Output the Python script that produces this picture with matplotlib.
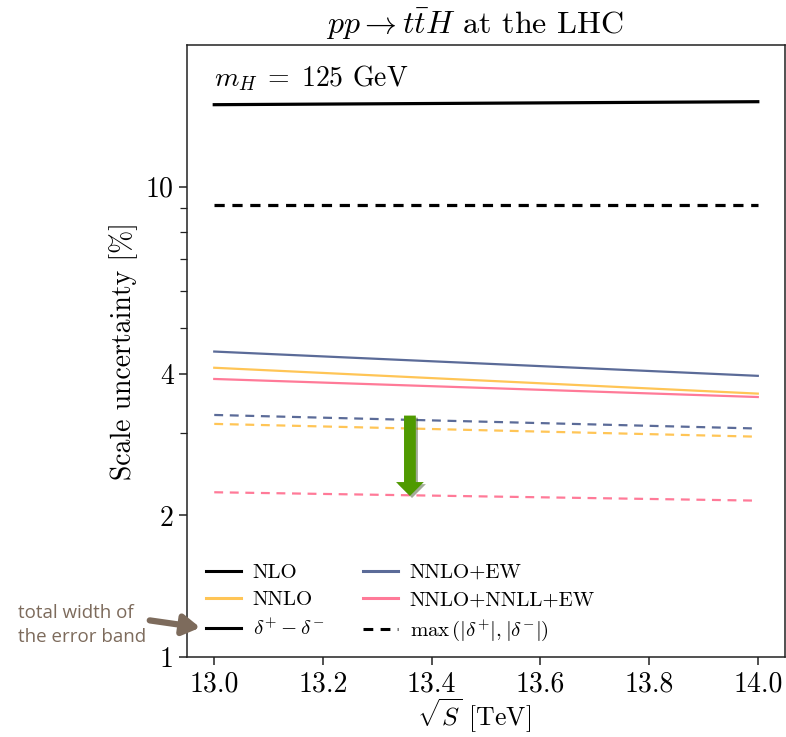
import matplotlib
matplotlib.use("Agg")
import matplotlib.pyplot as plt
import matplotlib.patheffects as pe
from matplotlib.lines import Line2D
from matplotlib.ticker import FixedLocator, NullFormatter, FixedFormatter

plt.rcParams['font.family'] = ['cmr10', 'DejaVu Serif']
plt.rcParams['mathtext.fontset'] = 'cm'
plt.rcParams['axes.formatter.use_mathtext'] = True
plt.rcParams['axes.unicode_minus'] = False

# ---- data ----
sqrt_s = [13.0, 14.0]
nlo_width = [14.93, 15.15]
nlo_max = [9.15, 9.15]
nnlo_width = [4.12, 3.63]
nnlo_max = [3.13, 2.94]
nnloew_width = [4.46, 3.96]
nnloew_max = [3.27, 3.06]
resum_width = [3.90, 3.57]
resum_max = [2.24, 2.15]

y_major = [1, 2, 4, 10]
y_major_labels = ['1', '2', '4', '10']
y_minor = [3, 5, 6, 7, 8, 9]
x_ticks = [13.0, 13.2, 13.4, 13.6, 13.8, 14.0]

legend_labels = ['NLO', 'NNLO', r'$\delta^{+}-\delta^{-}$',
                 'NNLO+EW', 'NNLO+NNLL+EW', r'$\max\,(|\delta^{+}|,|\delta^{-}|)$']

c_nlo = 'black'
c_nnlo = '#ffc556'
c_ew = '#5b6b98'
c_res = '#ff7a98'

fig = plt.figure(figsize=(7.86, 7.37), dpi=100)
ax = fig.add_axes([0.238, 0.1085, 0.7607, 0.8305])

lw_b = 2.3
lw_c = 1.6
ax.plot(sqrt_s, nlo_width, color=c_nlo, lw=lw_b)
ax.plot(sqrt_s, nlo_max, color=c_nlo, lw=lw_b, ls=(0, (3.2, 2.4)))
ax.plot(sqrt_s, nnloew_width, color=c_ew, lw=lw_c)
ax.plot(sqrt_s, nnlo_width, color=c_nnlo, lw=lw_c)
ax.plot(sqrt_s, resum_width, color=c_res, lw=lw_c)
ax.plot(sqrt_s, nnloew_max, color=c_ew, lw=lw_c, ls=(0, (4, 3)))
ax.plot(sqrt_s, nnlo_max, color=c_nnlo, lw=lw_c, ls=(0, (4, 3)))
ax.plot(sqrt_s, resum_max, color=c_res, lw=lw_c, ls=(0, (4, 3)))

ax.set_yscale('log')
ax.set_ylim(1, 20)
ax.set_xlim(12.95, 14.05)
ax.yaxis.set_major_locator(FixedLocator(y_major))
ax.yaxis.set_major_formatter(FixedFormatter(y_major_labels))
ax.yaxis.set_minor_locator(FixedLocator(y_minor))
ax.yaxis.set_minor_formatter(NullFormatter())
ax.set_xticks(x_ticks)
ax.set_xticklabels([f'{v:.1f}' for v in x_ticks])

ax.tick_params(axis='both', which='major', labelsize=20, length=6, width=1.1,
               direction='out', color='#222222')
ax.tick_params(axis='x', which='major', pad=4)
ax.tick_params(axis='y', which='minor', length=5, width=0.9, direction='out', color='#222222')
for s in ax.spines.values():
    s.set_linewidth(1.1)
    s.set_color('#222222')

ax.set_ylabel('Scale uncertainty [%]', fontsize=20, labelpad=6)
ax.set_xlabel(r'$\sqrt{S}$ [TeV]', fontsize=18.5)
ax.xaxis.set_label_coords(0.48, -0.064)
ax.set_title(r'$pp \to t\bar{t}H$ at the LHC', fontsize=23, pad=8, x=0.482)

ax.text(0.045, 0.945, r'$m_H\;=\;125$ GeV', transform=ax.transAxes, fontsize=20,
        ha='left', va='center')

handles = [
    Line2D([], [], color=c_nlo, lw=2.2),
    Line2D([], [], color=c_nnlo, lw=2.2),
    Line2D([], [], color='black', lw=2.2),
    Line2D([], [], color=c_ew, lw=2.2),
    Line2D([], [], color=c_res, lw=2.2),
    Line2D([], [], color='black', lw=2.2, ls=(0, (3.2, 2.4))),
]
ax.legend(handles, legend_labels, loc='lower left', bbox_to_anchor=(0.0, -0.008),
          ncol=2, frameon=False, fontsize=15, handlelength=1.7,
          handletextpad=0.55, columnspacing=1.85, labelspacing=0.42)

# green arrow
ax.annotate('', xy=(13.36, 2.2), xytext=(13.36, 3.26),
            arrowprops=dict(width=8.5, headwidth=20, headlength=10,
                            facecolor='#4f9a00', edgecolor='#4f9a00', lw=0,
                            path_effects=[pe.SimplePatchShadow(offset=(1.5, -1.5), alpha=0.4),
                                          pe.Normal()]))

# brown annotation
fig.text(18 / 786, 1 - 613 / 737, 'total width of', fontsize=13.5, color='#7d6b5c',
         family='Open Sans', ha='left', va='center')
fig.text(18 / 786, 1 - 637 / 737, 'the error band', fontsize=13.5, color='#7d6b5c',
         family='Open Sans', ha='left', va='center')
fig.add_artist(matplotlib.patches.FancyArrowPatch(
    (147 / 786, 1 - 620 / 737), (203 / 786, 1 - 628 / 737),
    transform=fig.transFigure, arrowstyle='-|>,head_length=10,head_width=6',
    color='#7d6b5c', lw=4.5, mutation_scale=1))

fig.savefig('out.png', dpi=100)
